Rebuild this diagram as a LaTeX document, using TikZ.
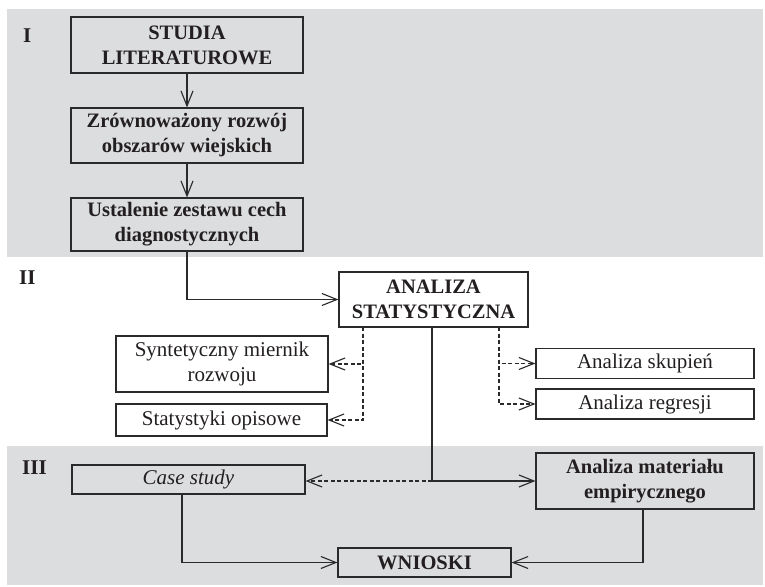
\documentclass[tikz,border=0pt]{standalone}
\usepackage{fontspec}
\setmainfont{Liberation Serif}
\usetikzlibrary{arrows.meta}
\definecolor{bandgray}{HTML}{DCDDDF}
\definecolor{ink}{HTML}{2A2A2A}
\definecolor{textink}{HTML}{231F20}
\begin{document}
\begin{tikzpicture}[x=1pt,y=-1pt,
  box/.style={draw=ink,line width=1.2pt,inner sep=0pt,align=center,text=textink,
    font=\fontsize{21}{25}\selectfont},
  boldbox/.style={box,font=\fontsize{20.5}{25}\selectfont\bfseries},
  conn/.style={draw=ink,line width=1.1pt,-{Straight Barb[length=15pt,width=12pt,line width=1.1pt,sep=0pt]}},
  dconn/.style={conn,dash pattern=on 4pt off 2.5pt},
  plain/.style={draw=ink,line width=1.1pt},
  band/.style={fill=bandgray,draw=none},
  roman/.style={anchor=base west,inner sep=0pt,text=textink,font=\fontsize{21}{25}\selectfont\bfseries}]
\useasboundingbox (0,0) rectangle (765,586);
\fill[band] (7,9) rectangle (763,257);
\fill[band] (7,446) rectangle (763,585);
\node[roman] (r1) at (23,42) {I};
\node[roman] (r2) at (19,284) {II};
\node[roman] (r3) at (22,474) {III};
% stage I
\node[boldbox,minimum width=232pt,minimum height=56pt] (stud) at (187,45) {STUDIA\\LITERATUROWE};
\node[boldbox,minimum width=232pt,minimum height=55pt] (zrow) at (187,135.5) {Zrównoważony rozwój\\obszarów wiejskich};
\node[boldbox,minimum width=232pt,minimum height=53pt] (ust) at (187,224.5) {Ustalenie zestawu cech\\diagnostycznych};
% stage II
\node[boldbox,fill=white,minimum width=189pt,minimum height=55pt] (ana) at (433.5,299.5) {ANALIZA\\STATYSTYCZNA};
\node[box,fill=white,minimum width=212pt,minimum height=56pt] (syn) at (222,364) {Syntetyczny miernik\\rozwoju};
\node[box,fill=white,minimum width=211pt,minimum height=32pt] (stat) at (221.5,420) {Statystyki opisowe};
\node[box,fill=white,minimum width=218pt,minimum height=30pt] (sku) at (645,363.5) {Analiza skupień};
\node[box,fill=white,minimum width=218pt,minimum height=30pt] (reg) at (645,404) {Analiza regresji};
% stage III
\node[box,minimum width=233pt,minimum height=29pt] (case) at (188.5,479.5) {\itshape Case study};
\node[boldbox,minimum width=218pt,minimum height=56pt] (mat) at (645,481) {Analiza materiału\\empirycznego};
\node[boldbox,minimum width=173pt,minimum height=29pt] (wn) at (424.5,562.5) {WNIOSKI};
% connectors
\draw[conn] (stud) -- (zrow);
\draw[conn] (zrow) -- (ust);
\draw[conn] (ust.south) |- (ana.west);
\coordinate (dl) at (363,327);
\coordinate (dr) at (499,327);
\coordinate (sd) at (432,327);
\coordinate (jn) at (432,481);
\draw[dconn] (dl) |- (syn.east);
\draw[dconn] (dl) |- (stat.east);
\draw[dconn] (dr) |- (sku.west);
\draw[dconn] (dr) |- (reg.west);
\draw[plain] (sd) -- (jn);
\draw[conn] (jn) -- (mat.west);
\draw[dconn] (jn) -- (case.east |- jn);
\coordinate (cs) at (182,494);
\coordinate (ms) at (643,509);
\draw[conn] (cs) |- (wn.west);
\draw[conn] (ms) |- (wn.east);
\end{tikzpicture}
\end{document}
